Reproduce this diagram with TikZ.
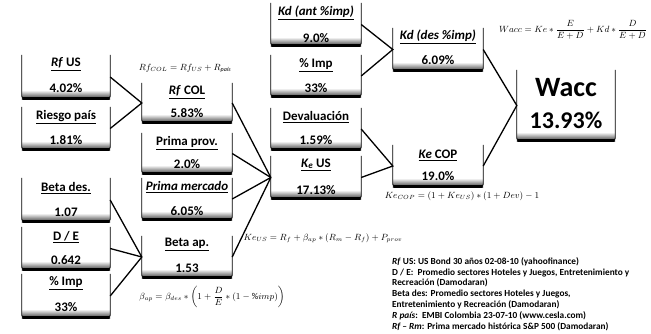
\documentclass[tikz,border=0pt]{standalone}
\usepackage{amsmath}
\usepackage{fontspec}
\setmainfont{Carlito}
\usetikzlibrary{calc}
\begin{document}
\begin{tikzpicture}[x=1pt,y=-1pt,
  ubox/.style={draw=none,inner sep=0pt},
  ttl/.style={font=\fontsize{13}{14}\selectfont\bfseries,inner sep=0pt},
  val/.style={font=\fontsize{13}{14}\selectfont\bfseries,inner sep=0pt},
  conn/.style={line width=1.3pt,line join=miter},
  frm/.style={font=\fontsize{9}{10}\selectfont,inner sep=0pt},
  notes/.style={font=\fontsize{9.3}{10.9}\selectfont\bfseries,inner sep=0pt,align=left}
]
\useasboundingbox (0,0) rectangle (651,334);
% column 1
\node[ubox,minimum width=88,minimum height=44] (rfus) at (66,77) {};
\node[ubox,minimum width=88,minimum height=43] (riesgo) at (66,128.5) {};
\node[ubox,minimum width=88,minimum height=44] (betades) at (66,200) {};
\node[ubox,minimum width=88,minimum height=43] (de) at (66,248.5) {};
\node[ubox,minimum width=88,minimum height=44] (impa) at (66,296) {};
% column 2
\node[ubox,minimum width=90,minimum height=40] (rfcol) at (187,103) {};
\node[ubox,minimum width=90,minimum height=41] (primaprov) at (187,153.5) {};
\node[ubox,minimum width=90,minimum height=42] (primamerc) at (187,199) {};
\node[ubox,minimum width=90,minimum height=42] (betaap) at (187,257) {};
% column 3
\node[ubox,minimum width=90,minimum height=43] (kdant) at (316,24.5) {};
\node[ubox,minimum width=90,minimum height=42] (impb) at (316,76) {};
\node[ubox,minimum width=90,minimum height=42] (deval) at (316,129) {};
\node[ubox,minimum width=90,minimum height=43] (keus) at (316,177.5) {};
% column 4
\node[ubox,minimum width=90,minimum height=43] (kddes) at (438,49.5) {};
\node[ubox,minimum width=90,minimum height=42] (kecop) at (438,166) {};
% Wacc
\node[ubox,minimum width=98,minimum height=71] (wacc) at (566,105.5) {};
% box outlines
\foreach \n in {rfus,riesgo,betades,de,impa,rfcol,primaprov,primamerc,betaap,kdant,impb,deval,keus,kddes,kecop,wacc}{
  \shade[top color=white,bottom color=black!80] ($(\n.south west)+(0,-9)$) rectangle (\n.south east);
  \draw[line width=0.8pt,rounded corners=3] (\n.north west) -- (\n.south west) -- (\n.south east) -- (\n.north east);
  \draw[line width=3pt] ($(\n.south west)+(1.5,-1)$) -- ($(\n.south east)+(-1.5,-1)$);
}
% texts
\node[ttl] (rfus-t) at (66,64) {\underline{\textit{Rf} US}};
\node[val] (rfus-v) at (66,88) {4.02\%};
\node[ttl] (riesgo-t) at (66,117) {\underline{Riesgo país}};
\node[val] (riesgo-v) at (66,140) {1.81\%};
\node[ttl] (betades-t) at (66,188) {\underline{Beta des.}};
\node[val] (betades-v) at (66,212) {1.07};
\node[ttl] (de-t) at (66,237) {\underline{D / E}};
\node[val] (de-v) at (66,260) {0.642};
\node[ttl] (impa-t) at (66,283) {\underline{\% Imp}};
\node[val] (impa-v) at (66,307) {33\%};
\node[ttl] (rfcol-t) at (187,92) {\underline{\textit{Rf} COL}};
\node[val] (rfcol-v) at (187,113) {5.83\%};
\node[ttl] (primaprov-t) at (187,143) {\underline{Prima prov.}};
\node[val] (primaprov-v) at (187,164) {2.0\%};
\node[ttl] (primamerc-t) at (187,187) {\underline{\textit{Prima mercado}}};
\node[val] (primamerc-v) at (187,211) {6.05\%};
\node[ttl] (betaap-t) at (187,245) {\underline{Beta ap.}};
\node[val] (betaap-v) at (187,268) {1.53};
\node[ttl] (kdant-t) at (316,13) {\underline{\textit{Kd (ant \%imp)}}};
\node[val] (kdant-v) at (316,38) {9.0\%};
\node[ttl] (impb-t) at (316,65) {\underline{\% Imp}};
\node[val] (impb-v) at (316,88) {33\%};
\node[ttl] (deval-t) at (316,117) {\underline{Devaluación}};
\node[val] (deval-v) at (316,140) {1.59\%};
\node[ttl] (keus-t) at (316,165) {\underline{\textit{K\textsubscript{e}} US}};
\node[val] (keus-v) at (316,190) {17.13\%};
\node[ttl] (kddes-t) at (438,37) {\underline{\textit{Kd (des \%imp)}}};
\node[val] (kddes-v) at (438,60) {6.09\%};
\node[ttl] (kecop-t) at (438,155) {\underline{\textit{Ke} COP}};
\node[val] (kecop-v) at (438,176) {19.0\%};
\node[font=\fontsize{28}{30}\selectfont\bfseries,inner sep=0pt] (wacc-t) at (566,88) {Wacc};
\node[font=\fontsize{24}{26}\selectfont\bfseries,inner sep=0pt] (wacc-v) at (566,120) {13.93\%};
% connectors
\draw[conn] (rfus.east) -- (rfcol.west) -- (riesgo.east);
\draw[conn] (betades.east) -- (betaap.west) -- (impa.east);
\draw[conn] (de.east) -- (betaap.west);
\draw[conn] (rfcol.east) -- (keus.west) -- (betaap.east);
\draw[conn] (primaprov.east) -- (keus.west);
\draw[conn] (primamerc.east) -- (keus.west);
\draw[conn] (kdant.east) -- (kddes.west) -- (impb.east);
\draw[conn] (deval.east) -- (kecop.west) -- (keus.east);
\draw[conn] (kddes.east) -- (wacc.west) -- (kecop.east);
% formulas
\node[frm] (f-rf) at (185,68) {$Rf_{COL} = Rf_{US} + R_{\text{\itshape país}}$};
\node[frm] (f-keus) at (323,238) {$Ke_{US} = R_f + \beta_{ap}\ast(R_m - R_f) + P_{prov}$};
\node[frm] (f-beta) at (212,297) {$\beta_{ap} = \beta_{des}\ast\left(1+\dfrac{D}{E}\ast(1-\%imp)\right)$};
\node[frm] (f-kecop) at (462,196) {$Ke_{COP} = (1+Ke_{US})\ast(1+Dev)-1$};
\node[frm] (f-wacc) at (573,30) {$Wacc = Ke\ast\dfrac{E}{E+D}+Kd\ast\dfrac{D}{E+D}$};
% notes
\node[notes,anchor=north west] (notes) at (392,257) {%
\textit{Rf} US: US Bond 30 años 02-08-10 (yahoofinance)\\
D / E:\ \ Promedio sectores Hoteles y Juegos, Entretenimiento y\\
Recreación (Damodaran)\\
Beta des: Promedio sectores Hoteles y Juegos,\\
Entretenimiento y Recreación (Damodaran)\\
\textit{R país}:\ \ EMBI Colombia 23-07-10 (www.cesla.com)\\
\textit{Rf -- Rm}: Prima mercado histórica S\&P 500 (Damodaran)};
\end{tikzpicture}
\end{document}
